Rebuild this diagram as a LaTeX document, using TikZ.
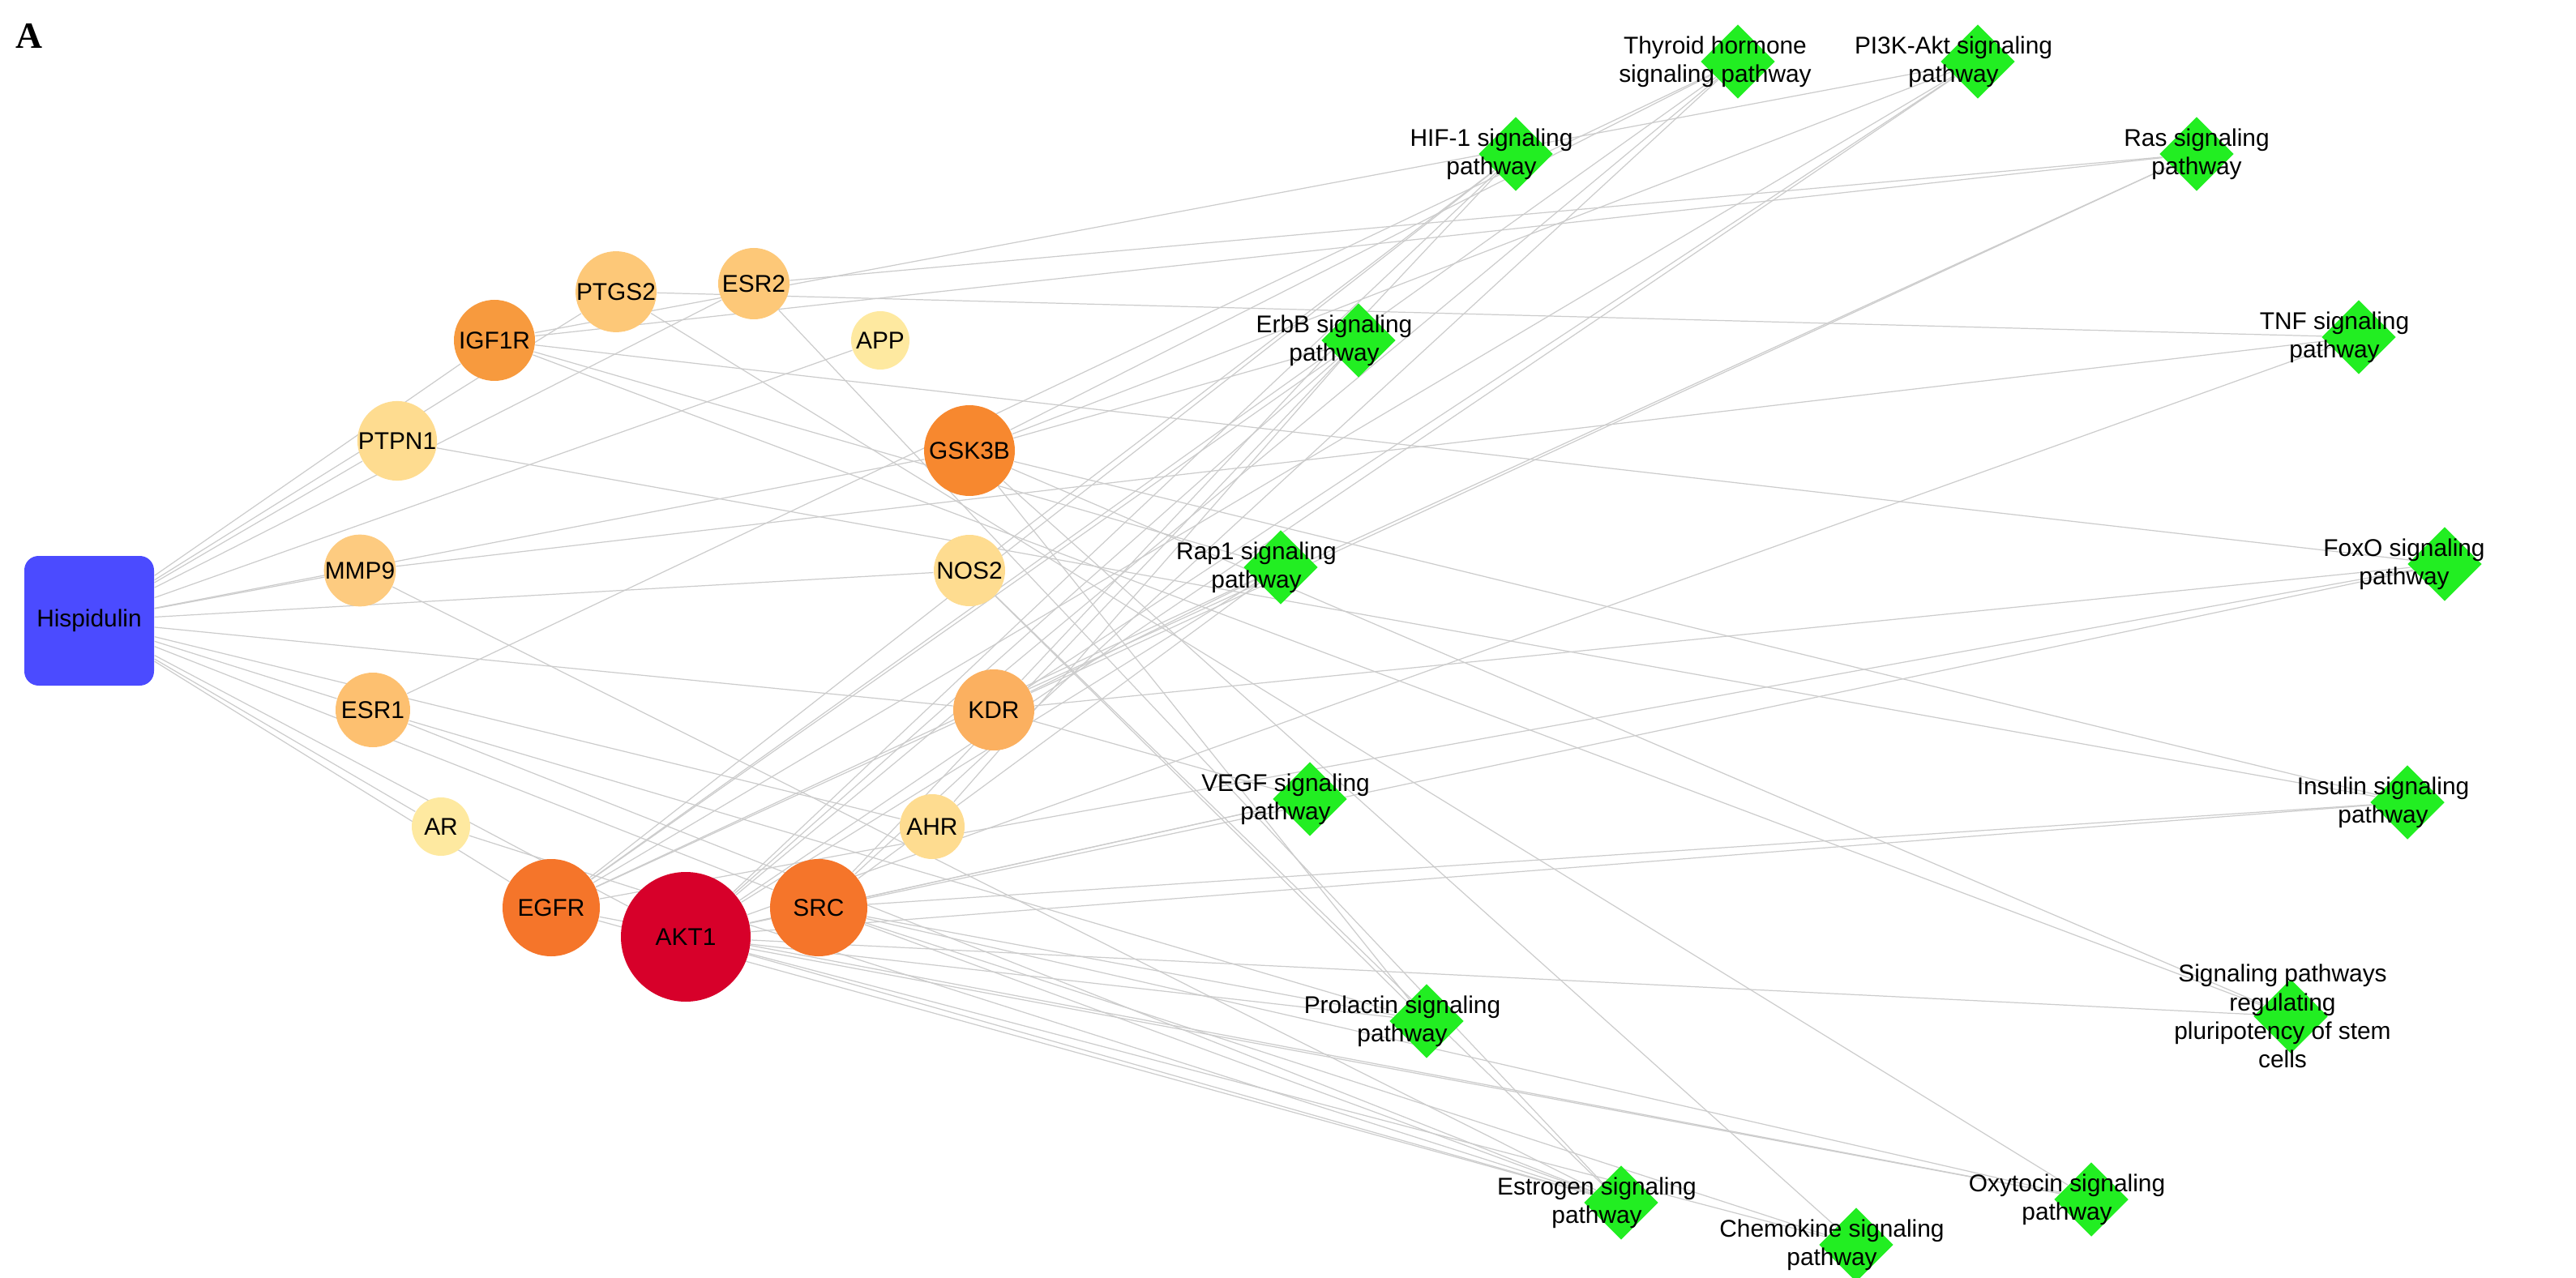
\documentclass[tikz,border=0pt]{standalone}
\usepackage{fontspec}
\setmainfont{Liberation Sans}
\newfontfamily\panelfont{Liberation Serif}
\usetikzlibrary{shapes.geometric,backgrounds}
\definecolor{hub}{HTML}{4B4BFF}
\definecolor{pw}{HTML}{22EE22}
\definecolor{edge}{HTML}{CCCCCC}
\begin{document}
\begin{tikzpicture}[x=0.02cm,y=-0.02cm,
    gene/.style={circle,inner sep=0pt,minimum size=#1,font=\fontsize{8.5}{10}\selectfont},
    path/.style={diamond,fill=pw,inner sep=0pt,minimum size=46*0.02cm},
    plab/.style={align=center,font=\fontsize{8.5}{10}\selectfont},
    link/.style={draw=edge,line width=0.35pt}]
\useasboundingbox (0,0) rectangle (1589,788.5);

\node[font=\panelfont\bfseries\fontsize{13}{15}\selectfont] (lblA) at (18,22) {A};

% compound
\node[fill=hub,rounded corners=5pt,minimum size=80*0.02cm,font=\fontsize{8.5}{10}\selectfont] (hisp) at (55,383) {Hispidulin};

% targets
\node[gene=50*0.02cm,fill={rgb,255:red,247;green,154;blue,62}] (IGF1R) at (305,210) {IGF1R};
\node[gene=44*0.02cm,fill={rgb,255:red,253;green,200;blue,120}] (PTGS2) at (380,180) {PTGS2};
\node[gene=44*0.02cm,fill={rgb,255:red,253;green,200;blue,120}] (ESR2) at (465,175) {ESR2};
\node[gene=36*0.02cm,fill={rgb,255:red,254;green,233;blue,160}] (APP) at (543,210) {APP};
\node[gene=40*0.02cm,fill={rgb,255:red,254;green,220;blue,144}] (PTPN1) at (245,272) {PTPN1};
\node[gene=56*0.02cm,fill={rgb,255:red,247;green,136;blue,47}] (GSK3B) at (598,278) {GSK3B};
\node[gene=44*0.02cm,fill={rgb,255:red,253;green,203;blue,128}] (MMP9) at (222,352) {MMP9};
\node[gene=44*0.02cm,fill={rgb,255:red,254;green,220;blue,144}] (NOS2) at (598,352) {NOS2};
\node[gene=46*0.02cm,fill={rgb,255:red,253;green,192;blue,112}] (ESR1) at (230,438) {ESR1};
\node[gene=50*0.02cm,fill={rgb,255:red,251;green,176;blue,96}] (KDR) at (613,438) {KDR};
\node[gene=36*0.02cm,fill={rgb,255:red,254;green,233;blue,160}] (AR) at (272,510) {AR};
\node[gene=40*0.02cm,fill={rgb,255:red,254;green,220;blue,144}] (AHR) at (575,510) {AHR};
\node[gene=60*0.02cm,fill={rgb,255:red,245;green,117;blue,42}] (EGFR) at (340,560) {EGFR};
\node[gene=80*0.02cm,fill={rgb,255:red,215;green,0;blue,42}] (AKT1) at (423,578) {AKT1};
\node[gene=60*0.02cm,fill={rgb,255:red,245;green,117;blue,42}] (SRC) at (505,560) {SRC};

% pathways
\node[path] (thy) at (1072,38) {};
\node[path] (pik) at (1220,38) {};
\node[path] (hif) at (935,95) {};
\node[path] (ras) at (1355,95) {};
\node[path] (erbb) at (838,210) {};
\node[path] (tnf) at (1455,208) {};
\node[path] (rap) at (790,350) {};
\node[path] (foxo) at (1508,348) {};
\node[path] (vegf) at (808,493) {};
\node[path] (ins) at (1485,495) {};
\node[path] (stem) at (1413,627) {};
\node[path] (prl) at (880,630) {};
\node[path] (est) at (1000,742) {};
\node[path] (oxy) at (1290,740) {};
\node[path] (chem) at (1145,768) {};

\node[plab] (thyL) at (thy) [xshift=-0.28cm] {Thyroid hormone\\signaling pathway};
\node[plab] (pikL) at (pik) [xshift=-0.3cm] {PI3K-Akt signaling\\pathway};
\node[plab] (hifL) at (hif) [xshift=-0.3cm] {HIF-1 signaling\\pathway};
\node[plab] (rasL) at (ras) {Ras signaling\\pathway};
\node[plab] (erbbL) at (erbb) [xshift=-0.3cm] {ErbB signaling\\pathway};
\node[plab] (tnfL) at (tnf) [xshift=-0.3cm] {TNF signaling\\pathway};
\node[plab] (rapL) at (rap) [xshift=-0.3cm] {Rap1 signaling\\pathway};
\node[plab] (foxoL) at (foxo) [xshift=-0.5cm] {FoxO signaling\\pathway};
\node[plab] (vegfL) at (vegf) [xshift=-0.3cm] {VEGF signaling\\pathway};
\node[plab] (insL) at (ins) [xshift=-0.3cm] {Insulin signaling\\pathway};
\node[plab] (stemL) at (stem) [xshift=-0.1cm] {Signaling pathways\\regulating\\pluripotency of stem\\cells};
\node[plab] (prlL) at (prl) [xshift=-0.3cm] {Prolactin signaling\\pathway};
\node[plab] (estL) at (est) [xshift=-0.3cm] {Estrogen signaling\\pathway};
\node[plab] (oxyL) at (oxy) [xshift=-0.3cm] {Oxytocin signaling\\pathway};
\node[plab] (chemL) at (chem) [xshift=-0.3cm] {Chemokine signaling\\pathway};

\begin{pgfonlayer}{background}
\foreach \g in {IGF1R,PTGS2,ESR2,APP,PTPN1,GSK3B,MMP9,NOS2,ESR1,KDR,AR,AHR,EGFR,AKT1,SRC}
  \draw[link] (hisp) -- (\g);
\foreach \g/\p in {AKT1/thy,AKT1/pik,AKT1/hif,AKT1/erbb,AKT1/rap,AKT1/tnf,AKT1/foxo,AKT1/vegf,AKT1/ins,AKT1/prl,AKT1/est,AKT1/oxy,AKT1/chem,AKT1/stem,
  EGFR/thy,EGFR/pik,EGFR/hif,EGFR/erbb,EGFR/rap,EGFR/foxo,EGFR/ras,EGFR/est,EGFR/oxy,
  SRC/thy,SRC/erbb,SRC/rap,SRC/vegf,SRC/prl,SRC/est,SRC/oxy,SRC/chem,SRC/ins,
  KDR/pik,KDR/hif,KDR/rap,KDR/vegf,KDR/ras,KDR/foxo,
  GSK3B/pik,GSK3B/erbb,GSK3B/ins,GSK3B/prl,GSK3B/chem,GSK3B/thy,GSK3B/stem,
  IGF1R/pik,IGF1R/foxo,IGF1R/ras,IGF1R/rap,IGF1R/stem,
  ESR1/thy,ESR1/prl,ESR1/est,
  ESR2/est,ESR2/ras,PTGS2/tnf,PTGS2/oxy,MMP9/tnf,MMP9/est,
  NOS2/hif,NOS2/est,NOS2/prl,PTPN1/ins,AR/est,AHR/erbb}
  \draw[link] (\g) -- (\p);
\end{pgfonlayer}
\end{tikzpicture}
\end{document}
